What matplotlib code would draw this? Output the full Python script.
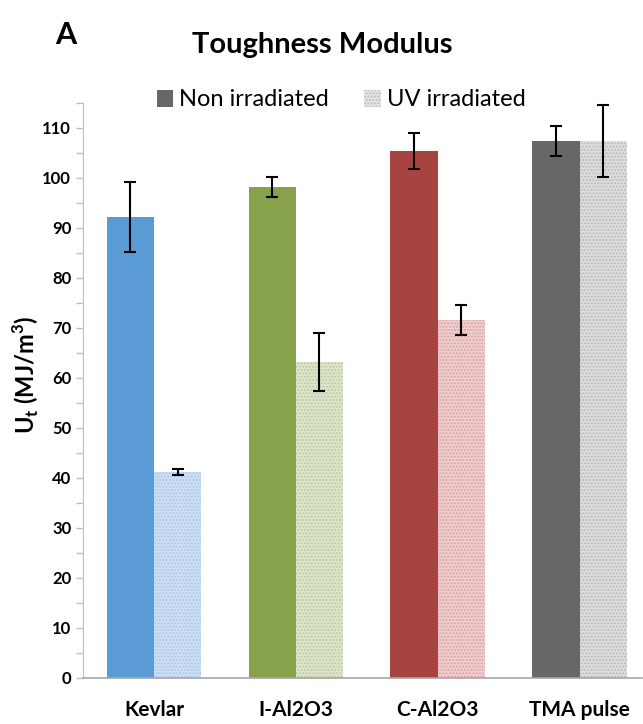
import matplotlib
matplotlib.use("Agg")
import matplotlib.pyplot as plt
import numpy as np
from matplotlib.patches import Patch
from matplotlib.ticker import MultipleLocator

categories = ["Kevlar", "I-Al2O3", "C-Al2O3", "TMA pulse"]
non_irr = [92.2, 98.2, 105.3, 107.3]
non_irr_err = [7.0, 2.0, 3.6, 3.0]
uv_irr = [41.2, 63.2, 71.5, 107.3]
uv_irr_err = [0.6, 5.8, 3.0, 7.2]
yticks = list(range(0, 111, 10))

solid_colors = ["#5b9bd5", "#87a24a", "#a8443f", "#676767"]
light_colors = ["#cfe0f3", "#dde6cc", "#efcfcf", "#dedede"]
dot_colors = ["#a9c6ea", "#bccb9f", "#dca3a2", "#b9b9b9"]

plt.rcParams['font.family'] = ['Lato', 'DejaVu Sans']
plt.rcParams['hatch.linewidth'] = 1.0

fig = plt.figure(figsize=(6.43, 7.24), dpi=100)
ax = fig.add_axes([83/643, (724-677.7)/724, 559/643, (677.7-103)/724])

x = np.arange(len(categories))
w = 1/3
for i in range(len(categories)):
    ax.bar(x[i] - w/2, non_irr[i], width=w, color=solid_colors[i], linewidth=0, zorder=2)
    ax.bar(x[i] + w/2, uv_irr[i], width=w, color=light_colors[i], edgecolor=dot_colors[i],
           hatch='.....', linewidth=0, zorder=2)
ax.errorbar(x - w/2, non_irr, yerr=non_irr_err, fmt='none', ecolor='black', elinewidth=1.5,
            capsize=4, capthick=1.5, zorder=3)
ax.errorbar(x + w/2, uv_irr, yerr=uv_irr_err, fmt='none', ecolor='black', elinewidth=1.5,
            capsize=4, capthick=1.5, zorder=3)

ax.set_xlim(-0.5, 3.44)
ax.set_ylim(0, 115)
ax.set_yticks(yticks)
ax.yaxis.set_minor_locator(MultipleLocator(5))
ax.set_xticks(x)
ax.set_xticklabels(categories, fontsize=15, fontweight='bold')
ax.tick_params(axis='x', length=0, pad=16)
ax.tick_params(axis='y', which='both', direction='out', length=5, color='#bfbfbf', width=1)
for lab in ax.get_yticklabels():
    lab.set_fontweight('bold')
    lab.set_fontsize(12)
for s in ['top', 'right']:
    ax.spines[s].set_visible(False)
ax.spines['left'].set_color('#bfbfbf')
ax.spines['bottom'].set_color('#a6a6a6')
ax.spines['bottom'].set_linewidth(1.2)

fig.text(26/643, 1 - 375/724, r"U$_\mathregular{t}$ (MJ/m$^\mathregular{3}$)", rotation=90,
         ha='center', va='center', fontsize=17, fontweight='bold')

fig.text(322/643, 1 - 45/724, "Toughness Modulus", ha='center', va='center', fontsize=21, fontweight='bold')
fig.text(66/643, 1 - 35/724, "A", ha='center', va='center', fontsize=22, fontweight='bold')

handles = [Patch(facecolor='#676767', linewidth=0),
           Patch(facecolor='#e4e4e4', edgecolor='#bdbdbd', hatch='.....', linewidth=0)]
fig.legend(handles, ["Non irradiated", "UV irradiated"], loc='center',
           bbox_to_anchor=(341/643, 1 - 100/724), ncol=2, frameon=False, fontsize=17,
           handlelength=0.7, handleheight=0.7, handletextpad=0.25, columnspacing=1.5)

fig.savefig("out.png", dpi=100)
